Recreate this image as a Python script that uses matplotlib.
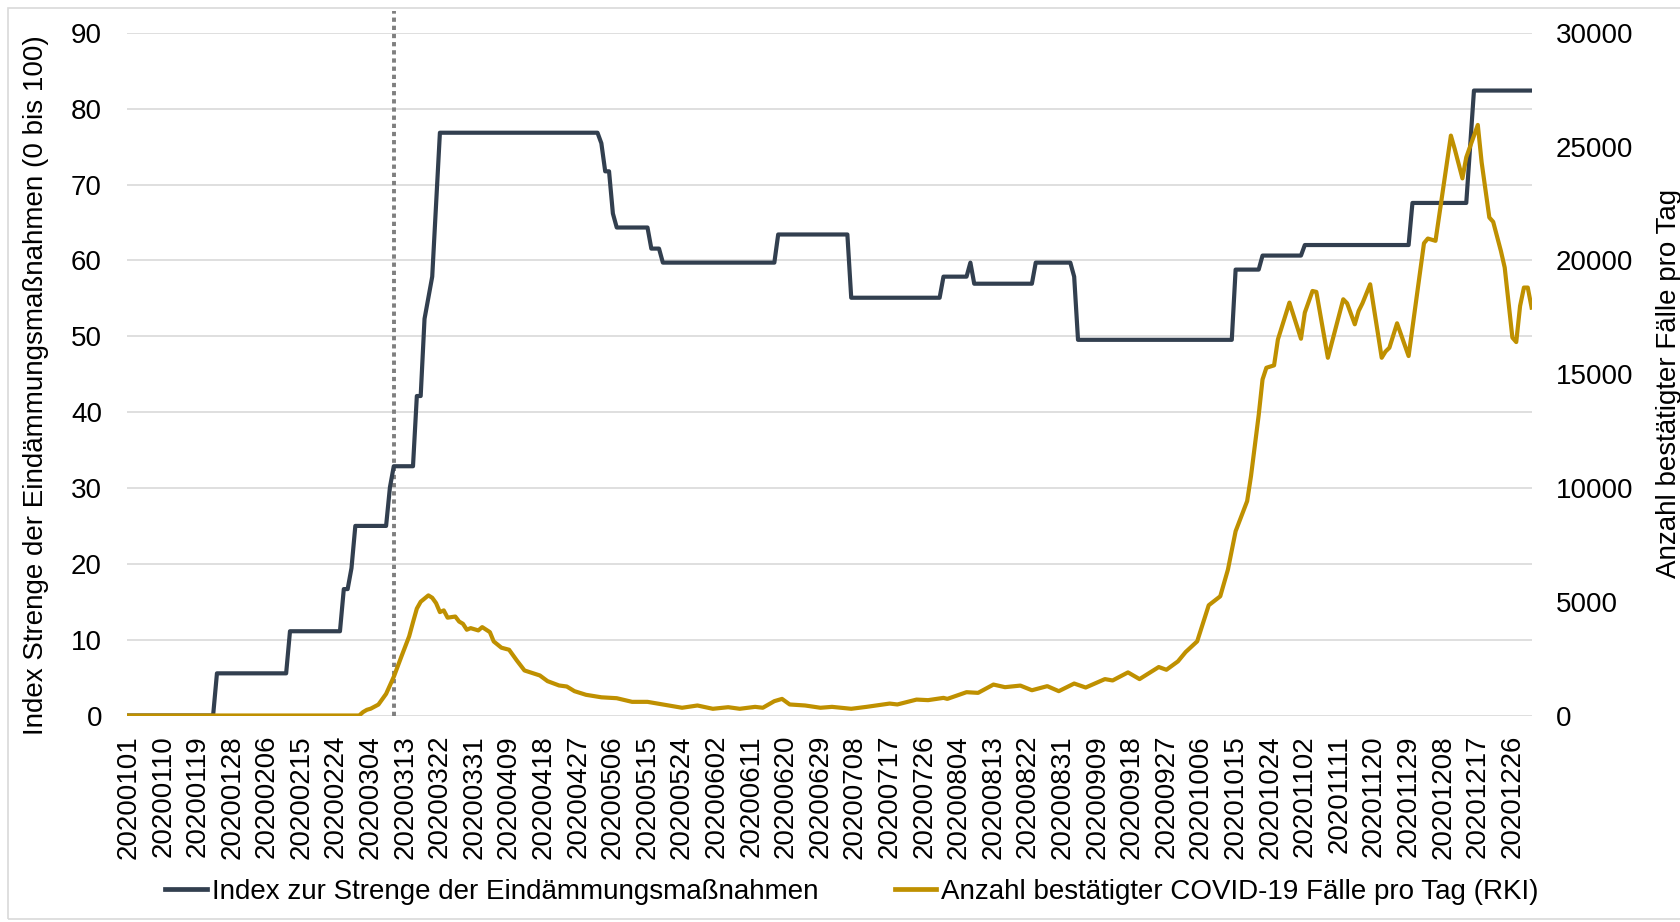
import matplotlib
matplotlib.use("Agg")
import matplotlib.pyplot as plt
from matplotlib.lines import Line2D
from matplotlib.patches import Rectangle
import pandas as pd

plt.rcParams['font.family'] = ['Liberation Sans', 'DejaVu Sans']

# ---------------- data ----------------
start_date = "20200101"

tick_labels = ["20200101", "20200110", "20200119", "20200128", "20200206", "20200215",
               "20200224", "20200304", "20200313", "20200322", "20200331", "20200409",
               "20200418", "20200427", "20200506", "20200515", "20200524", "20200602",
               "20200611", "20200620", "20200629", "20200708", "20200717", "20200726",
               "20200804", "20200813", "20200822", "20200831", "20200909", "20200918",
               "20200927", "20201006", "20201015", "20201024", "20201102", "20201111",
               "20201120", "20201129", "20201208", "20201217", "20201226"]

stringency_dates = ["20200101", "20200123", "20200124", "20200211", "20200212", "20200225",
                    "20200226", "20200227", "20200228", "20200229", "20200308", "20200309",
                    "20200310", "20200315", "20200316", "20200317", "20200318", "20200319",
                    "20200320", "20200321", "20200322", "20200502", "20200503", "20200504",
                    "20200505", "20200506", "20200507", "20200515", "20200516", "20200518",
                    "20200519", "20200617", "20200618", "20200706", "20200707", "20200730",
                    "20200731", "20200806", "20200807", "20200808", "20200823", "20200824",
                    "20200902", "20200903", "20200904", "20201014", "20201015", "20201021",
                    "20201022", "20201101", "20201102", "20201129", "20201130", "20201214",
                    "20201215", "20201216", "20201231"]
stringency_values = [0, 0, 5.56, 5.56, 11.11, 11.11,
                     16.67, 16.67, 19.44, 25.0, 25.0, 30.09,
                     32.87, 32.87, 42.13, 42.13, 52.31, 55.09,
                     57.87, 67.36, 76.85, 76.85, 75.46, 71.76,
                     71.76, 66.2, 64.35, 64.35, 61.57, 61.57,
                     59.72, 59.72, 63.43, 63.43, 55.09, 55.09,
                     57.87, 57.87, 59.72, 56.94, 56.94, 59.72,
                     59.72, 57.87, 49.54, 49.54, 58.8, 58.8,
                     60.65, 60.65, 62.04, 62.04, 67.59, 67.59,
                     75.0, 82.41, 82.41]

case_dates = ["20200101", "20200301", "20200302", "20200303", "20200304", "20200306",
              "20200308", "20200310", "20200312", "20200314", "20200315", "20200316",
              "20200317", "20200319", "20200320", "20200321", "20200322", "20200323",
              "20200324", "20200326", "20200327", "20200328", "20200329", "20200330",
              "20200401", "20200402", "20200404", "20200405", "20200407", "20200409",
              "20200411", "20200413", "20200417", "20200419", "20200422", "20200424",
              "20200426", "20200429", "20200503", "20200507", "20200511", "20200515",
              "20200519", "20200524", "20200528", "20200601", "20200605", "20200608",
              "20200612", "20200614", "20200617", "20200619", "20200621", "20200625",
              "20200629", "20200702", "20200707", "20200711", "20200717", "20200719",
              "20200724", "20200727", "20200731", "20200801", "20200806", "20200809",
              "20200813", "20200816", "20200820", "20200823", "20200827", "20200830",
              "20200903", "20200906", "20200911", "20200913", "20200917", "20200920",
              "20200925", "20200927", "20200930", "20201002", "20201005", "20201008",
              "20201011", "20201013", "20201015", "20201018", "20201019", "20201021",
              "20201022", "20201023", "20201025", "20201026", "20201029", "20201101",
              "20201102", "20201104", "20201105", "20201108", "20201112", "20201113",
              "20201115", "20201116", "20201117", "20201119", "20201122", "20201123",
              "20201124", "20201126", "20201129", "20201201", "20201203", "20201204",
              "20201206", "20201210", "20201211", "20201213", "20201214", "20201217",
              "20201218", "20201220", "20201221", "20201223", "20201224", "20201226",
              "20201227", "20201228", "20201229", "20201230", "20201231"]
case_values = [0, 0, 150, 250, 300, 480,
               950, 1700, 2600, 3480, 4100, 4700,
               5000, 5280, 5175, 4940, 4545, 4620,
               4300, 4350, 4130, 4030, 3770, 3840,
               3740, 3885, 3665, 3255, 2980, 2890,
               2420, 1980, 1760, 1510, 1320, 1275,
               1070, 910, 800, 760, 600, 600,
               485, 340, 440, 295, 365, 295,
               380, 340, 630, 730, 485, 440,
               340, 380, 295, 380, 525, 485,
               700, 675, 775, 730, 1025, 995,
               1360, 1245, 1315, 1110, 1290, 1070,
               1405, 1230, 1600, 1540, 1895, 1600,
               2130, 2010, 2380, 2790, 3260, 4845,
               5240, 6415, 8100, 9425, 10525, 13200,
               14770, 15285, 15390, 16530, 18150, 16560,
               17710, 18660, 18620, 15725, 18295, 18120,
               17195, 17780, 18120, 18955, 15725, 16000,
               16165, 17240, 15800, 18295, 20760, 20965,
               20865, 25490, 24900, 23610, 24535, 25960,
               24315, 21890, 21700, 20425, 19690, 16610,
               16415, 18000, 18810, 18810, 17930]

marker_date = "20200310"

label_stringency = "Index zur Strenge der Eindämmungsmaßnahmen"
label_cases = "Anzahl bestätigter COVID-19 Fälle pro Tag (RKI)"
ylabel_left = "Index Strenge der Eindämmungsmaßnahmen (0 bis 100)"
ylabel_right = "Anzahl bestätigter Fälle pro Tag"

# ---------------- helpers ----------------
t0 = pd.to_datetime(start_date, format="%Y%m%d")
def to_day(lst):
    return [(pd.to_datetime(s, format="%Y%m%d") - t0).days for s in lst]

s_x = to_day(stringency_dates)
c_x = to_day(case_dates)
tick_x = to_day(tick_labels)
marker_x = to_day([marker_date])[0]

NAVY = "#323F4F"
GOLD = "#BF9000"
GRID = "#D9D9D9"

W, H = 1680, 922
fig = plt.figure(figsize=(W / 100, H / 100), dpi=100)
L, R, T, B = 127, 1532, 33, 715.5
ax = fig.add_axes([L / W, 1 - B / H, (R - L) / W, (B - T) / H])
ax2 = ax.twinx()

ax.plot(s_x, stringency_values, color=NAVY, lw=3.0, solid_joinstyle='round', zorder=3)
ax2.plot(c_x, case_values, color=GOLD, lw=3.0, solid_joinstyle='round', zorder=3)

ax.plot([marker_x, marker_x], [0, 90 * (B - 11) / (B - T)], color="#7F7F7F", lw=2.8,
        ls=(0, (1.1, 1.0)), clip_on=False, zorder=2)

ax.set_xlim(-0.4, 365.1)
ax.set_ylim(0, 90)
ax2.set_ylim(0, 30000)
ax.set_yticks(range(0, 91, 10))
ax2.set_yticks(range(0, 30001, 5000))
ax.set_xticks(tick_x)
ax.set_xticklabels(tick_labels, rotation=90)

for a in (ax, ax2):
    for sp in a.spines.values():
        sp.set_visible(False)

ax.grid(axis='y', color=GRID, lw=1.2)
ax.grid(axis='x', visible=False)
ax.set_axisbelow(True)
ax.tick_params(axis='x', length=0, labelsize=20, pad=14)
ax.tick_params(axis='y', length=0, labelsize=20, pad=18)
ax2.tick_params(axis='y', length=0, labelsize=20, pad=17)

fig.text(36 / W, 1 - 385 / H, ylabel_left, rotation=90, ha='center', va='center', fontsize=20)
fig.text(1656 / W, 1 - 383 / H, ylabel_right, rotation=90, ha='left', va='center', fontsize=20)

handles = [Line2D([], [], color=NAVY, lw=3.4), Line2D([], [], color=GOLD, lw=3.4)]
fig.legend(handles, [label_stringency, label_cases], loc='center',
           bbox_to_anchor=(852 / W, 1 - 892 / H), ncol=2, frameon=False, fontsize=20,
           handlelength=1.5, handletextpad=0.18, columnspacing=2.75)

fig.add_artist(Rectangle((8 / W, 1 - 919 / H), 1.0, (919 - 8) / H, fill=False,
                         ec=GRID, lw=1.2, transform=fig.transFigure))

fig.savefig("out.png", dpi=100)
